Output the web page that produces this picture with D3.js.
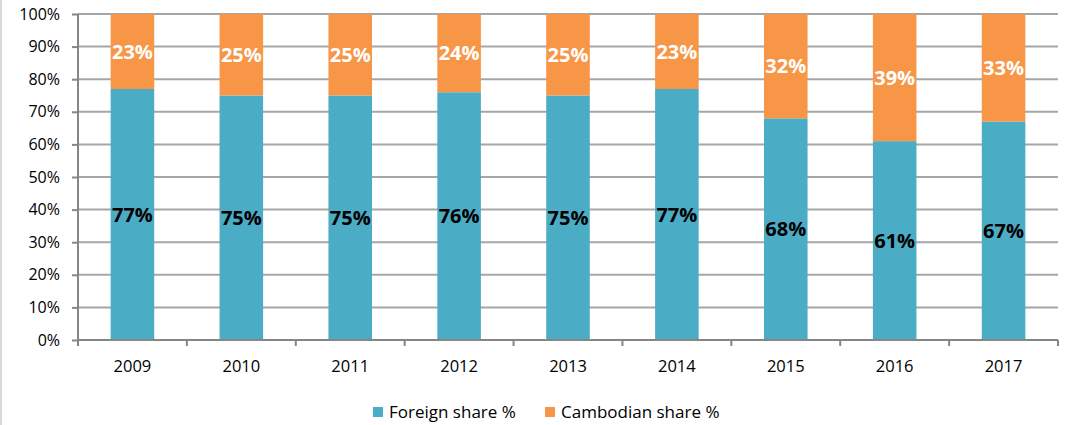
<!DOCTYPE html>
<meta charset="utf-8">
<style>
body { margin: 0; background: #fff; }
text { font-family: "Open Sans", "Noto Sans", sans-serif; }
.grid line { stroke: #a6a6a6; stroke-width: 2; }
.axis path, .axis line { stroke: #868686; stroke-width: 2; }
.axis text { font-size: 16px; fill: #000; }
</style>
<body>
<script src="https://d3js.org/d3.v7.min.js"></script>
<script>
var years = ["2009", "2010", "2011", "2012", "2013", "2014", "2015", "2016", "2017"];
var foreign = [77, 75, 75, 76, 75, 77, 68, 61, 67];
var cambodian = [23, 25, 25, 24, 25, 23, 32, 39, 33];
var yTicks = [0, 10, 20, 30, 40, 50, 60, 70, 80, 90, 100];
var seriesNames = ["Foreign share %", "Cambodian share %"];
var colors = ["#4bacc6", "#f79646"];

var w = 1076, h = 425;
var svg = d3.select("body").append("svg").attr("width", w).attr("height", h);

// light frame on the left edge
svg.append("line").attr("x1", 1).attr("x2", 1).attr("y1", 0).attr("y2", h)
    .attr("stroke", "#d9d9d9").attr("stroke-width", 2);

var m = {left: 78, right: 1058, top: 14, bottom: 340};

var x = d3.scaleBand().domain(years).range([m.left, m.right]).paddingInner(0.6).paddingOuter(0.3);
var xb = d3.scaleBand().domain(years).range([m.left, m.right]);
var y = d3.scaleLinear().domain([0, 100]).range([m.bottom, m.top]);

// gridlines
svg.append("g").attr("class", "grid")
  .selectAll("line").data(yTicks.slice(1)).enter().append("line")
    .attr("x1", m.left).attr("x2", m.right)
    .attr("y1", function(d) { return y(d); })
    .attr("y2", function(d) { return y(d); });

var data = years.map(function(yr, i) { return {year: yr, f: foreign[i], c: cambodian[i]}; });

// foreign (bottom)
svg.selectAll(".barF").data(data).enter().append("rect")
    .attr("x", function(d) { return x(d.year); })
    .attr("width", x.bandwidth())
    .attr("y", function(d) { return y(d.f); })
    .attr("height", function(d) { return y(0) - y(d.f); })
    .attr("fill", colors[0]);

// cambodian (top)
svg.selectAll(".barC").data(data).enter().append("rect")
    .attr("x", function(d) { return x(d.year); })
    .attr("width", x.bandwidth())
    .attr("y", function(d) { return y(d.f + d.c); })
    .attr("height", function(d) { return y(d.f) - y(d.f + d.c); })
    .attr("fill", colors[1]);

// y axis
var yAxis = svg.append("g").attr("class", "axis")
    .attr("transform", "translate(" + m.left + ",0)")
    .call(d3.axisLeft(y).tickValues(yTicks).tickSize(6).tickPadding(12)
      .tickFormat(function(d) { return d + "%"; }));
yAxis.select(".domain").attr("d", "M0," + m.top + "V" + m.bottom);

// x axis
var xAxis = svg.append("g").attr("class", "axis")
    .attr("transform", "translate(0," + m.bottom + ")");
xAxis.append("line").attr("x1", m.left).attr("x2", m.right).attr("y1", 0).attr("y2", 0);
xAxis.selectAll(".tk").data(years.concat(["end"])).enter().append("line")
    .attr("x1", function(d, i) { return m.left + i * xb.bandwidth(); })
    .attr("x2", function(d, i) { return m.left + i * xb.bandwidth(); })
    .attr("y1", 0).attr("y2", 6);
xAxis.selectAll(".lbl").data(years).enter().append("text")
    .attr("x", function(d) { return xb(d) + xb.bandwidth() / 2; })
    .attr("y", 32)
    .attr("text-anchor", "middle")
    .style("font-size", "16.5px")
    .text(function(d) { return d; });

// value labels
svg.selectAll(".lf").data(data).enter().append("text")
    .attr("x", function(d) { return x(d.year) + x.bandwidth() / 2; })
    .attr("y", function(d) { return y(d.f / 2); })
    .attr("dy", "0.36em")
    .attr("text-anchor", "middle")
    .style("font-size", "20px").style("font-weight", "bold").attr("fill", "#000")
    .text(function(d) { return d.f + "%"; });

svg.selectAll(".lc").data(data).enter().append("text")
    .attr("x", function(d) { return x(d.year) + x.bandwidth() / 2; })
    .attr("y", function(d) { return y(d.f + d.c / 2); })
    .attr("dy", "0.36em")
    .attr("text-anchor", "middle")
    .style("font-size", "20px").style("font-weight", "bold").attr("fill", "#fff")
    .text(function(d) { return d.c + "%"; });

// legend
var legX = [373, 545];
var leg = svg.selectAll(".leg").data(seriesNames).enter().append("g")
    .attr("transform", function(d, i) { return "translate(" + legX[i] + ",407)"; });
leg.append("rect").attr("width", 10).attr("height", 10)
    .attr("fill", function(d, i) { return colors[i]; });
leg.append("text").attr("x", 16).attr("y", 11)
    .style("font-size", "17px")
    .text(function(d) { return d; });
</script>
</body>
